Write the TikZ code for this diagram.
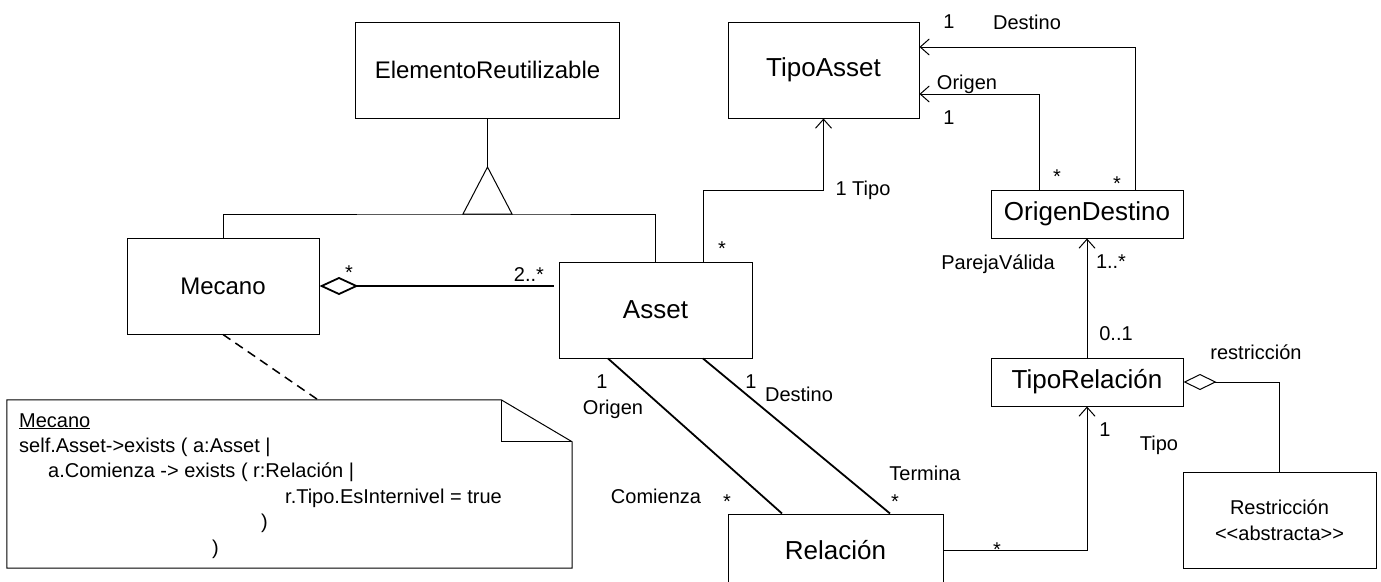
\documentclass[tikz,border=0pt]{standalone}
\usepackage{fontspec}
\setmainfont{Liberation Sans}
\usetikzlibrary{arrows.meta}

\begin{document}
\begin{tikzpicture}[x=1pt,y=-1pt,
	clase/.style={draw,line width=1pt,inner sep=0pt,align=center,font=\fontsize{26}{30}\selectfont},
	lbl/.style={inner sep=0pt,font=\fontsize{20}{25.5}\selectfont},
	linea/.style={line width=1pt},
	gruesa/.style={line width=1.8pt},
	flecha/.style={line width=1pt,-{Straight Barb[length=9pt,width=16pt]}},
	agreg/.style={{Diamond[open,length=39pt,width=18pt]}-}]
	\useasboundingbox[fill=white] (0,0) rectangle (1381,581);
	\node[clase,minimum width=264,minimum height=96,font=\fontsize{24}{28}\selectfont] (elemento) at (487.5,70) {ElementoReutilizable};
	\node[clase,minimum width=192,minimum height=96,font=\fontsize{24}{28}\selectfont] (mecano) at (223,286) {Mecano};
	\node[clase,minimum width=193,minimum height=96] (asset) at (655.5,310) {Asset};
	\node[clase,minimum width=191,minimum height=96] (tipoasset) at (823.5,70) {TipoAsset};
	\node[clase,minimum width=192,minimum height=48] (origendestino) at (1087,214) {OrigenDestino};
	\node[clase,minimum width=192,minimum height=48] (tiporelacion) at (1087,382) {TipoRelación};
	\node[clase,minimum width=215,minimum height=72] (relacion) at (835.5,550) {Relación};
	\node[clase,minimum width=193,minimum height=96,font=\fontsize{20}{26}\selectfont] (restriccion) at (1279.5,520) {Restricción\\<\kern0pt<abstracta>\kern0pt>};
	\node[minimum width=565,minimum height=168,inner sep=0pt] (nota) at (289.5,484) {};
	\draw[linea] (nota.north west) -- ([xshift=-71pt]nota.north east) -- ([yshift=-42pt]nota.north east) -- (nota.south east) -- (nota.south west) -- cycle;
	\draw[linea] ([xshift=-71pt]nota.north east) |- ([yshift=-42pt]nota.north east);
	\node[lbl,anchor=base west] (n1) at (19,427) {\underline{Mecano}};
	\node[lbl,anchor=base west] (n2) at (19,452) {self.Asset->exists ( a:Asset |};
	\node[lbl,anchor=base west] (n3) at (48,477.5) {a.Comienza -> exists ( r:Relación |};
	\node[lbl,anchor=base west] (n4) at (285,503) {r.Tipo.EsInternivel = true};
	\node[lbl,anchor=base west] (n5) at (261,528.5) {)};
	\node[lbl,anchor=base west] (n6) at (212,554) {)};
	\coordinate (gen) at (487.5,214);
	\coordinate (vertice) at (487.5,167);
	\draw[linea] (mecano.north) |- (gen) -| (asset.north);
	\draw[linea] (vertice) -- (vertice |- elemento.south);
	\draw[linea] ([xshift=-24.5pt]gen) -- (vertice) -- ([xshift=24.5pt]gen) -- cycle;
	\draw[gruesa,agreg,shorten >=5pt] (mecano.east) -- (mecano.east -| asset.west);
	\draw[flecha] ([xshift=47.5pt]asset.north) -- ++(0,-71) -| (tipoasset.south);
	\draw[flecha] ([xshift=48pt]origendestino.north) |- ([yshift=23pt]tipoasset.east);
	\draw[flecha] ([xshift=-48pt]origendestino.north) |- ([yshift=-24pt]tipoasset.east);
	\draw[flecha] (tiporelacion.north) -- (origendestino.south);
	\draw[linea,{Diamond[open,length=33pt,width=16pt]}-] (tiporelacion.east) -| (restriccion.north);
	\draw[flecha] (relacion.east) -| (tiporelacion.south);
	\draw[gruesa] ([xshift=-47.5pt]asset.south) -- ([xshift=-53.5pt]relacion.north);
	\draw[gruesa] ([xshift=47.5pt]asset.south) -- ([xshift=54.5pt]relacion.north);
	\draw[line width=1.5pt,dash pattern=on 9pt off 6pt] (mecano.south) -- ([xshift=28.5pt]nota.north);
	\node[lbl] (m1) at (349,273) {*};
	\node[lbl] (m2) at (529,275) {2..*};
	\node[lbl] (m3) at (722,249) {*};
	\node[lbl] (m4) at (863,190) {1 Tipo};
	\node[lbl] (m5) at (949,22) {1};
	\node[lbl] (m6) at (1027,22) {Destino};
	\node[lbl] (m7) at (967,84) {Origen};
	\node[lbl] (m8) at (949,118) {1};
	\node[lbl] (m9) at (1057,177) {*};
	\node[lbl] (m10) at (1117,184) {*};
	\node[lbl] (m11) at (998,264) {ParejaVálida};
	\node[lbl] (m12) at (1111,262) {1..*};
	\node[lbl] (m13) at (1116,334) {0..1};
	\node[lbl] (m14) at (1256,352) {restricción};
	\node[lbl] (m15) at (1105,430) {1};
	\node[lbl] (m16) at (1159,445) {Tipo};
	\node[lbl] (m17) at (997,550) {*};
	\node[lbl] (m18) at (602,382) {1};
	\node[lbl] (m19) at (613,409) {Origen};
	\node[lbl] (m20) at (656,496) {Comienza};
	\node[lbl] (m21) at (727,502) {*};
	\node[lbl] (m22) at (751,382) {1};
	\node[lbl] (m23) at (799,394) {Destino};
	\node[lbl] (m24) at (925,473) {Termina};
	\node[lbl] (m25) at (895,502) {*};
\end{tikzpicture}
\end{document}
